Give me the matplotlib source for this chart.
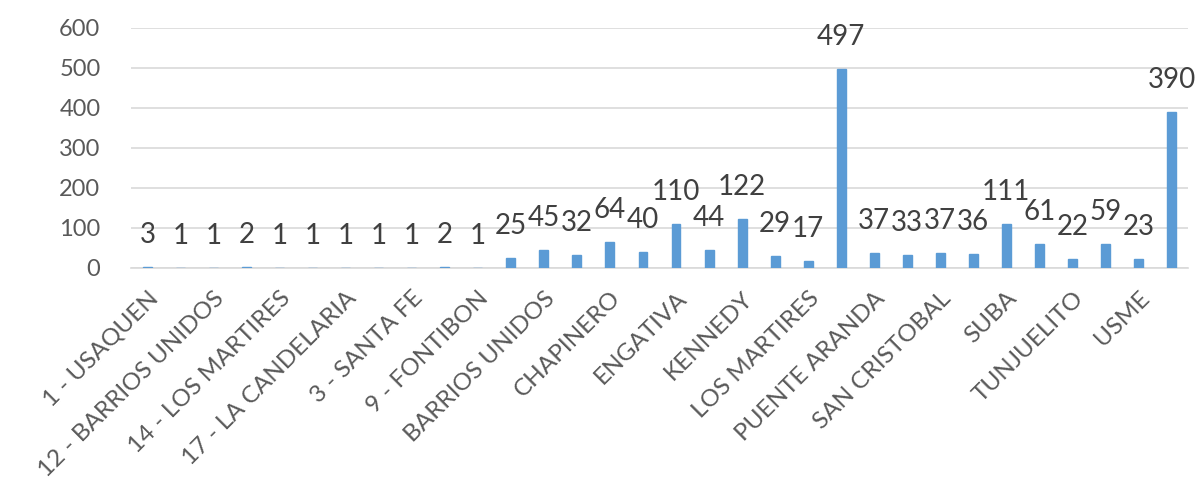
import matplotlib.pyplot as plt
import numpy as np

# localidades, ordenadas como en la tabla dinamica
localidades = [
    "1 - USAQUEN", "11 - SUBA", "12 - BARRIOS UNIDOS", "13 - TEUSAQUILLO",
    "14 - LOS MARTIRES", "16 - PUENTE ARANDA", "17 - LA CANDELARIA",
    "19 - CIUDAD BOLIVAR", "3 - SANTA FE", "8 - KENNEDY", "9 - FONTIBON",
    "ANTONIO NARIÑO", "BARRIOS UNIDOS", "BOSA", "CHAPINERO", "CIUDAD BOLIVAR",
    "ENGATIVA", "FONTIBON", "KENNEDY", "LA CANDELARIA", "LOS MARTIRES",
    "NO REGISTRA", "PUENTE ARANDA", "RAFAEL URIBE URIBE", "SAN CRISTOBAL",
    "SANTA FE", "SUBA", "TEUSAQUILLO", "TUNJUELITO", "USAQUEN", "USME",
    "(en blanco)",
]
casos = [3, 1, 1, 2, 1, 1, 1, 1, 1, 2, 1,
         25, 45, 32, 64, 40, 110, 44, 122, 29, 17, 497,
         37, 33, 37, 36, 111, 61, 22, 59, 23, 390]
yticks = [0, 100, 200, 300, 400, 500, 600]

plt.rcParams['font.family'] = ['Lato', 'DejaVu Sans']

fig = plt.figure(figsize=(12.01, 5), dpi=100)
ax = fig.add_axes([131 / 1201, 232 / 500, 1057 / 1201, 240 / 500])

x = np.arange(len(localidades))
# el borde del mismo color deja ver las barras de 1 y 2 casos
ax.bar(x, casos, width=0.27, color="#5B9BD5", edgecolor="#5B9BD5",
       linewidth=1.0, zorder=3)

for xi, v in zip(x, casos):
    ax.annotate(str(v), (xi, v), xytext=(0, 23), textcoords="offset points",
                ha="center", va="center", fontsize=20, color="#404040")

ax.set_xlim(-0.5, len(localidades) - 0.5)
ax.set_ylim(0, 600)
ax.set_yticks(yticks)
ax.yaxis.grid(True, color="#D9D9D9", linewidth=1.2, zorder=0)
ax.tick_params(axis="y", length=0, labelsize=17, labelcolor="#595959", pad=22)

# solo se rotula una categoria de cada dos
ax.set_xticks(x[::2])
ax.set_xticklabels(localidades[::2], rotation=45, ha="right",
                   rotation_mode="anchor", fontsize=17.5, color="#595959")
ax.tick_params(axis="x", length=0, pad=14)

for s in ["top", "right", "left"]:
    ax.spines[s].set_visible(False)
ax.spines["bottom"].set_color("#D9D9D9")
ax.spines["bottom"].set_linewidth(1.2)

plt.savefig("out.png", dpi=100)
